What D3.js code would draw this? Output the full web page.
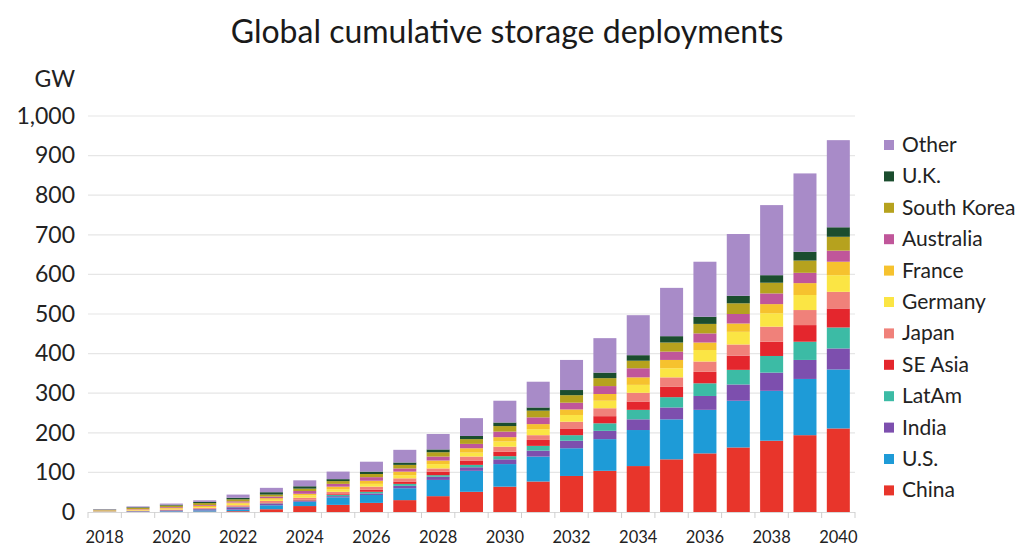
<!DOCTYPE html>
<html>
<head>
<meta charset="utf-8">
<script src="https://cdn.jsdelivr.net/npm/d3@7"></script>
<style>
  body { margin: 0; background: #fff; }
  svg { font-family: Lato, "Open Sans", sans-serif; }
</style>
</head>
<body>
<svg id="chart" width="1023" height="549"></svg>
<script>
// years on the x axis
const years = d3.range(2018, 2041);
// series, bottom to top of the stack
const regions = ['China', 'U.S.', 'India', 'LatAm', 'SE Asia', 'Japan', 'Germany', 'France', 'Australia', 'South Korea', 'U.K.', 'Other'];
const colors = ['#e8352b', '#1e9bd7', '#7d4fae', '#3cbba5', '#e4262d', '#f0817a', '#fbe544', '#f6c22e', '#c0569a', '#b6a21e', '#1b4d2e', '#a88bc8'];

// GW per region, one value per year 2018..2040
const china      = [0.2, 0.3, 0.5, 1, 2, 7, 15, 18, 23, 30, 40, 51, 64, 77, 91, 104, 116, 133, 148, 163, 180, 194, 211];
const us         = [0.4, 0.8, 1.5, 3, 4, 10, 11, 19, 20, 30, 41, 53, 57, 63, 70, 80, 91, 101, 110, 118, 126, 142, 149];
const india      = [0.5, 1, 2, 3, 6, 4, 2, 3, 4, 6, 8, 9, 12, 15, 19, 21, 27, 30, 35, 41, 46, 48, 53];
const latam      = [0.1, 0.2, 0.3, 0.5, 1, 1, 1, 3, 4, 5, 4, 6, 8, 12, 14, 19, 24, 26, 32, 37, 42, 46, 53];
const seAsia     = [0.1, 0.3, 0.5, 1, 1, 2, 2, 2, 5, 6, 9, 11, 11, 15, 17, 18, 21, 26, 29, 36, 36, 42, 48];
const japan      = [0.5, 1, 1.5, 2, 3, 4, 5, 6, 8, 8, 8, 10, 13, 12, 17, 20, 22, 24, 26, 28, 38, 38, 42];
const germany    = [0.8, 1.5, 2, 2, 4, 3, 6, 6, 7, 8, 11, 10, 13, 15, 17, 19, 20, 23, 29, 32, 34, 38, 42];
const france     = [0.8, 1.5, 2, 3, 3, 4, 4, 7, 8, 9, 9, 11, 11, 13, 14, 17, 19, 21, 19, 21, 23, 30, 34];
const australia  = [0.6, 1, 2, 2, 3, 4, 7, 7, 9, 8, 10, 11, 14, 17, 17, 20, 23, 21, 23, 24, 27, 26, 28];
const southKorea = [1.5, 3, 4, 5, 5, 5, 6, 7, 8, 9, 11, 12, 14, 17, 19, 20, 19, 23, 24, 27, 27, 31, 35];
const uk         = [1, 1.5, 2, 3, 4, 6, 6, 5, 6, 6, 7, 8, 9, 8, 13, 14, 14, 16, 18, 19, 19, 22, 24];
const other      = [1, 2, 3, 4, 8, 11, 15, 19, 25, 32, 39, 45, 55, 65, 76, 87, 101, 122, 139, 156, 177, 198, 220];

const seriesValues = [china, us, india, latam, seAsia, japan, germany, france, australia, southKorea, uk, other];
const yTicks = d3.range(0, 1001, 100);
const xLabelYears = d3.range(2018, 2041, 2);

const table = years.map((yr, i) => {
  const row = { year: yr };
  regions.forEach((r, k) => { row[r] = seriesValues[k][i]; });
  return row;
});

const svg = d3.select('#chart');
const margin = { left: 88, right: 168, top: 116, bottom: 37 };
const W = 1023, H = 549;

const x = d3.scaleBand()
  .domain(years)
  .range([margin.left, W - margin.right])
  .paddingInner(0.31)
  .paddingOuter(0.155);

const y = d3.scaleLinear()
  .domain([0, 1000])
  .range([H - margin.bottom, margin.top]);

// title
svg.append('text')
  .attr('x', 507)
  .attr('y', 43)
  .attr('text-anchor', 'middle')
  .attr('fill', '#1a1a1a')
  .style('font-size', '32px')
  .text('Global cumulative storage deployments');

// unit
svg.append('text')
  .attr('x', 75)
  .attr('y', 87)
  .attr('text-anchor', 'end')
  .attr('fill', '#222')
  .style('font-size', '23px')
  .text('GW');

// grid lines
svg.append('g')
  .selectAll('line')
  .data(yTicks.filter(d => d > 0))
  .join('line')
  .attr('x1', margin.left)
  .attr('x2', W - margin.right)
  .attr('y1', d => y(d))
  .attr('y2', d => y(d))
  .attr('stroke', '#e6e6e6')
  .attr('stroke-width', 1.2);

// y axis labels
const yAxis = svg.append('g')
  .attr('transform', `translate(${margin.left - 13},0)`)
  .call(d3.axisLeft(y).tickValues(yTicks).tickSize(0).tickFormat(d3.format(',')));
yAxis.select('.domain').remove();
yAxis.selectAll('text')
  .attr('x', 0)
  .attr('fill', '#222')
  .style('font-size', '23px')
  .style('font-family', 'Lato, sans-serif');

// bars
const stacked = d3.stack().keys(regions)(table);
svg.append('g')
  .selectAll('g')
  .data(stacked)
  .join('g')
  .attr('fill', (d, i) => colors[i])
  .selectAll('rect')
  .data(d => d)
  .join('rect')
  .attr('x', d => x(d.data.year))
  .attr('width', x.bandwidth())
  .attr('y', d => y(d[1]))
  .attr('height', d => y(d[0]) - y(d[1]));

// x axis: baseline, ticks between bars, labels every two years
const baseY = y(0);
svg.append('line')
  .attr('x1', margin.left)
  .attr('x2', W - margin.right)
  .attr('y1', baseY + 0.5)
  .attr('y2', baseY + 0.5)
  .attr('stroke', '#d8d8d8');

const step = x.step();
const tickXs = years.map(yr => x(yr) - (step - x.bandwidth()) / 2).concat([x(2040) + x.bandwidth() + (step - x.bandwidth()) / 2]);
svg.append('g')
  .selectAll('line')
  .data(tickXs)
  .join('line')
  .attr('x1', d => d)
  .attr('x2', d => d)
  .attr('y1', baseY)
  .attr('y2', baseY + 6)
  .attr('stroke', '#cfcfcf');

svg.append('g')
  .selectAll('text')
  .data(xLabelYears)
  .join('text')
  .attr('x', d => x(d) + x.bandwidth() / 2)
  .attr('y', 543)
  .attr('text-anchor', 'middle')
  .attr('fill', '#222')
  .style('font-size', '16.5px')
  .text(d => d);

// legend, top to bottom in reverse stack order
const legendItems = regions.map((r, i) => ({ name: r, color: colors[i] })).reverse();
const legend = svg.append('g')
  .selectAll('g')
  .data(legendItems)
  .join('g')
  .attr('transform', (d, i) => `translate(884,${145 + i * 31.4})`);
legend.append('rect')
  .attr('x', 0)
  .attr('y', -5)
  .attr('width', 10)
  .attr('height', 10)
  .attr('fill', d => d.color);
legend.append('text')
  .attr('x', 18)
  .attr('y', 7)
  .attr('fill', '#222')
  .style('font-size', '21px')
  .text(d => d.name);
</script>
</body>
</html>
